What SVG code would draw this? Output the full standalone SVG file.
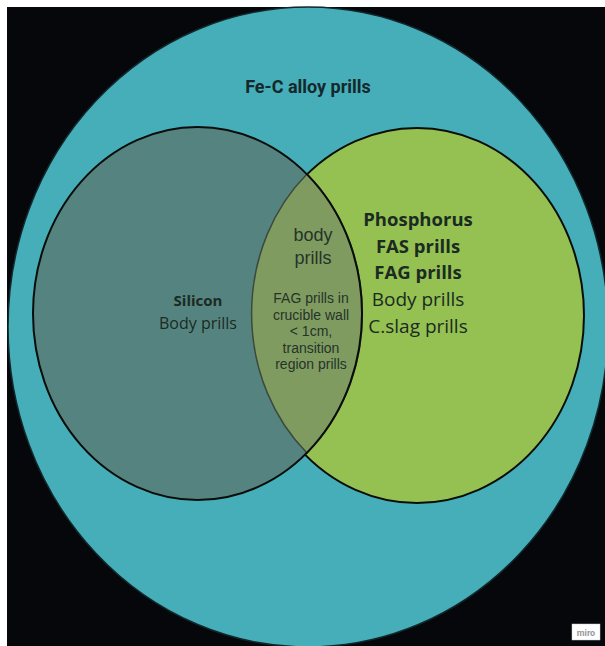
<svg xmlns="http://www.w3.org/2000/svg" width="605" height="646" viewBox="0 0 605 646">
<style>
.title{font-family:Roboto,"Liberation Sans",Arial,sans-serif;font-weight:bold;font-size:18px;fill:#15282c;text-anchor:middle}
.os{font-family:"Open Sans","Noto Sans","Liberation Sans",sans-serif;fill:#1b2a22;text-anchor:middle}
.b{font-weight:bold}
.ar{font-family:"Liberation Sans",Arial,sans-serif;fill:#26332a;text-anchor:middle}
</style>
<rect x="0" y="0" width="605" height="646" fill="#ffffff"/>
<rect x="7" y="7" width="598" height="639" fill="#05070a"/>
<g id="fe-c">
<ellipse cx="308" cy="327" rx="300" ry="320" fill="#45aeb8" stroke="#12282c" stroke-width="1.5"/>
<text class="title" x="308" y="93">Fe-C alloy prills</text>
</g>
<g id="phosphorus">
<ellipse cx="417" cy="315.5" rx="167" ry="187.5" fill="#94c151" stroke="#0a0d0a" stroke-width="2"/>
</g>
<g id="silicon">
<ellipse cx="197.5" cy="313.5" rx="164.5" ry="186.5" fill="#558480"/>
</g>
<g id="overlap">
<path d="M307,174 A167,187.5 0 0 0 307,453 A164.5,186.5 0 0 0 307,174 Z" fill="#7f9b60" stroke="#3c4a3c" stroke-width="1.5"/>
</g>
<g id="silicon-outline">
<ellipse cx="197.5" cy="313.5" rx="164.5" ry="186.5" fill="none" stroke="#0a0d0a" stroke-width="2"/>
</g>
<g id="labels-silicon">
<text class="os b" x="198" y="306" font-size="15">Silicon</text>
<text class="os" x="198" y="329" font-size="16">Body prills</text>
</g>
<g id="labels-phosphorus">
<text class="os b" x="418" y="226" font-size="18.5">Phosphorus</text>
<text class="os b" x="418" y="252.5" font-size="18.5">FAS prills</text>
<text class="os b" x="418" y="279" font-size="18.5">FAG prills</text>
<text class="os" x="418" y="306" font-size="19">Body prills</text>
<text class="os" x="418" y="332.5" font-size="19">C.slag prills</text>
</g>
<g id="labels-overlap">
<text class="ar" x="313" y="241" font-size="18">body</text>
<text class="ar" x="313" y="264" font-size="18">prills</text>
<text class="ar" x="311" y="303" font-size="14">FAG prills in</text>
<text class="ar" x="311" y="320" font-size="14">crucible wall</text>
<text class="ar" x="311" y="336" font-size="14">&lt; 1cm,</text>
<text class="ar" x="311" y="353" font-size="14">transition</text>
<text class="ar" x="311" y="369" font-size="14">region prills</text>
</g>
<g id="miro">
<rect x="572" y="624" width="28" height="16" fill="#ffffff" stroke="#cccccc" stroke-width="0.5"/>
<text x="586" y="635.5" font-family="Roboto,'Liberation Sans',sans-serif" font-size="9" font-weight="bold" fill="#9a9a9a" text-anchor="middle">miro</text>
</g>
</svg>
